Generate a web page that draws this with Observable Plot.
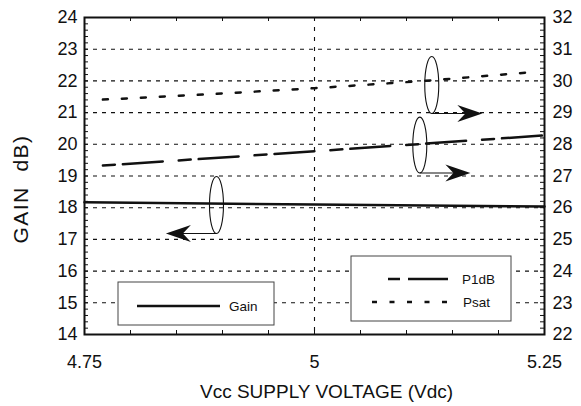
<!DOCTYPE html>
<html><head><meta charset="utf-8">
<script src="https://cdn.jsdelivr.net/npm/d3@7"></script>
<script src="https://cdn.jsdelivr.net/npm/@observablehq/plot@0.6"></script>
<style>
html,body{margin:0;padding:0;background:#fff;}
#chart svg text{white-space:pre;}
</style></head><body><div id="chart"></div>
<script>
// ---- data ----
const voltageTicks = [4.75, 5, 5.25];
const gainTicks = d3.range(14, 25);      // left axis (GAIN dB)
const powerTicks = d3.range(22, 33);     // right axis (dBm)
const gainX = [4.75, 5.0, 5.25];
const gainDb = [18.17, 18.10, 18.04];
const p1dbX = [4.77, 5.0, 5.25];
const p1dbDbm = [27.33, 27.78, 28.28];
const psatX = [4.77, 4.88, 5.0, 5.12, 5.23];
const psatDbm = [29.41, 29.57, 29.77, 30.0, 30.26];
const seriesNames = ["Gain", "P1dB", "Psat"];
const calloutX = [4.894, 5.115, 5.128];
const calloutY = [18.07, 27.96, 29.855];
const calloutTipX = [4.839, 5.170, 5.183];
const calloutHalf = [0.9, 0.88, 0.9];
const xTitle = "Vcc SUPPLY VOLTAGE (Vdc)";
const yTitle = "GAIN  dB)";

// ---- setup ----
const axisOffset = powerTicks[0] - gainTicks[0];
const font = '"Liberation Sans", Arial, Helvetica, sans-serif';
const ink = "#111";
const gainData = gainX.map((x, i) => ({x, y: gainDb[i]}));
const p1dbData = p1dbX.map((x, i) => ({x, y: p1dbDbm[i] - axisOffset}));
const psatData = psatX.map((x, i) => ({x, y: psatDbm[i] - axisOffset}));
const minorY = d3.range(0, 51).map(i => 14 + i * 0.2);
const minorX = d3.range(0, 11).map(i => 4.75 + i * 0.05);
const W = 581, H = 406, ML = 84, MR = 37, MT = 17, MB = 72;
const innerW = W - ML - MR, innerH = H - MT - MB;

function callouts(index, scales) {
  const g = d3.create("svg:g");
  const {x, y} = scales;
  seriesNames.forEach((s, i) => {
    const cy = i === 0 ? calloutY[i] : calloutY[i] - axisOffset;
    const px = x(calloutX[i]), py = y(cy);
    const ry = y(cy - calloutHalf[i]) - py;
    g.append("ellipse").attr("cx", px).attr("cy", py).attr("rx", 7).attr("ry", ry)
      .attr("fill", "none").attr("stroke", ink).attr("stroke-width", 1.1);
    const y0 = py + ry;
    const tx = x(calloutTipX[i]);
    const dir = tx > px ? 1 : -1;
    const L = 25, w = 8.5;
    g.append("line").attr("x1", px).attr("y1", y0).attr("x2", tx - dir * L * 0.6).attr("y2", y0)
      .attr("stroke", ink).attr("stroke-width", 1.1);
    g.append("path")
      .attr("d", `M${tx},${y0} L${tx - dir * L},${y0 - w} L${tx - dir * L * 0.68},${y0} L${tx - dir * L},${y0 + w} Z`)
      .attr("fill", ink);
  });
  return g.node();
}

function legends(index, scales, values, dims) {
  const g = d3.create("svg:g").attr("font-family", font).attr("font-size", 13.5)
    .attr("fill", ink).attr("text-anchor", "start");
  const L = dims.marginLeft, T = dims.marginTop;
  // Gain box
  g.append("rect").attr("x", L + 34).attr("y", T + 265).attr("width", 156).attr("height", 43)
    .attr("fill", "#fff").attr("stroke", "#444").attr("stroke-width", 1);
  g.append("line").attr("x1", L + 53).attr("x2", L + 136).attr("y1", T + 289).attr("y2", T + 289)
    .attr("stroke", ink).attr("stroke-width", 2.5);
  g.append("text").attr("x", L + 145).attr("y", T + 289).attr("dy", "0.35em").text(seriesNames[0]);
  // P1dB / Psat box
  g.append("rect").attr("x", L + 267).attr("y", T + 239).attr("width", 160).attr("height", 65)
    .attr("fill", "#fff").attr("stroke", "#444").attr("stroke-width", 1);
  g.append("line").attr("x1", L + 304).attr("x2", L + 364).attr("y1", T + 262).attr("y2", T + 262)
    .attr("stroke", ink).attr("stroke-width", 2.5).attr("stroke-dasharray", "12,8,40,16");
  g.append("text").attr("x", L + 378).attr("y", T + 262).attr("dy", "0.35em").text(seriesNames[1]);
  g.append("line").attr("x1", L + 288).attr("x2", L + 371).attr("y1", T + 285).attr("y2", T + 285)
    .attr("stroke", ink).attr("stroke-width", 2.5).attr("stroke-dasharray", "5,12.5");
  g.append("text").attr("x", L + 379).attr("y", T + 285).attr("dy", "0.35em").text(seriesNames[2]);
  return g.node();
}

const chart = Plot.plot({
  width: W, height: H,
  marginLeft: ML, marginRight: MR, marginTop: MT, marginBottom: MB,
  style: {fontFamily: font, background: "#fff", color: ink, overflow: "visible"},
  x: {domain: [voltageTicks[0], voltageTicks[voltageTicks.length - 1]]},
  y: {domain: [gainTicks[0], gainTicks[gainTicks.length - 1]]},
  marks: [
    Plot.ruleY(gainTicks.slice(1, -1), {stroke: ink, strokeWidth: 1.1, strokeDasharray: "4,5"}),
    Plot.ruleX([voltageTicks[1]], {stroke: ink, strokeWidth: 1.1, strokeDasharray: "4,6"}),
    legends,
    Plot.tickY(minorY, {y: d => d, insetRight: innerW - 4, stroke: ink, strokeWidth: 1}),
    Plot.tickY(minorY, {y: d => d, insetLeft: innerW - 4, stroke: ink, strokeWidth: 1}),
    Plot.tickX(minorX, {x: d => d, insetBottom: innerH - 4, stroke: ink, strokeWidth: 1}),
    Plot.tickX(minorX, {x: d => d, insetTop: innerH - 4, stroke: ink, strokeWidth: 1}),
    Plot.line(gainData, {x: "x", y: "y", stroke: ink, strokeWidth: 2.5}),
    Plot.line(p1dbData, {x: "x", y: "y", stroke: ink, strokeWidth: 2.5, strokeDasharray: "12,8,40,16"}),
    Plot.line(psatData, {x: "x", y: "y", stroke: ink, strokeWidth: 2.5, strokeDasharray: "5,14"}),
    callouts,
    Plot.axisY(gainTicks, {anchor: "left", tickSize: 0, tickPadding: 7, fontSize: 18, label: null}),
    Plot.axisY(gainTicks, {anchor: "right", tickSize: 0, tickPadding: 8, fontSize: 18, label: null,
      tickFormat: d => String(d + axisOffset)}),
    Plot.axisX(voltageTicks, {anchor: "bottom", tickSize: 0, tickPadding: 21, fontSize: 18, label: null,
      tickFormat: d => String(d)}),
    Plot.text([xTitle], {text: d => d, frameAnchor: "bottom", textAnchor: "middle", dy: 57, dx: 12,
      fontSize: 19, lineAnchor: "middle"}),
    Plot.text([yTitle], {text: d => d, frameAnchor: "left", textAnchor: "middle", rotate: -90,
      dx: -63, dy: 13, fontSize: 21, lineAnchor: "middle"}),
    Plot.frame({stroke: ink, strokeWidth: 2})
  ]
});
d3.select(chart).selectAll("text").filter(function() { return this.textContent === yTitle; })
  .style("letter-spacing", "1.5px");
document.getElementById("chart").appendChild(chart);
</script></body></html>
